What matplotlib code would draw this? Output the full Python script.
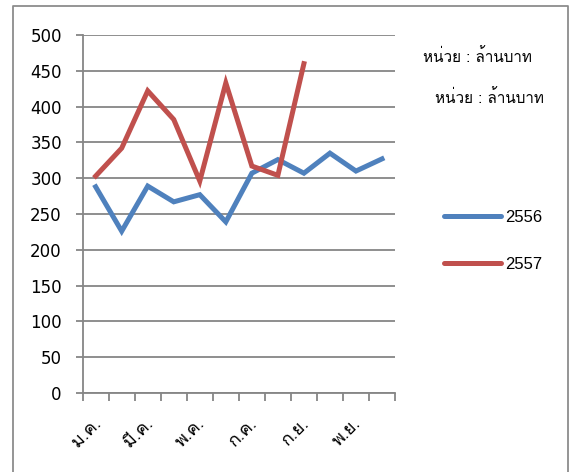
import matplotlib
matplotlib.use("Agg")
import matplotlib.pyplot as plt
import matplotlib.transforms as mtransforms
from matplotlib import font_manager, ft2font
from matplotlib.lines import Line2D

months = ["ม.ค.", "ก.พ.", "มี.ค.", "เม.ย.", "พ.ค.", "มิ.ย.",
          "ก.ค.", "ส.ค.", "ก.ย.", "ต.ค.", "พ.ย.", "ธ.ค."]
y2556 = [288, 226, 289, 267, 277, 239, 307, 326, 307, 335, 310, 327]
y2557 = [303, 342, 422, 382, 296, 433, 317, 304, 460]
unit_text = "หน่วย : ล้านบาท"


def find_thai_font():
    names = []
    for f in font_manager.fontManager.ttflist:
        try:
            cmap = ft2font.FT2Font(f.fname).get_charmap()
        except Exception:
            continue
        if 0x0E2B in cmap and 0x0E49 in cmap:
            names.append(f.name)
    return names[0] if names else "DejaVu Sans"


thai = find_thai_font()
plt.rcParams["font.family"] = [thai, "DejaVu Sans"]

blue = "#4F81BD"
red = "#C0504D"
gray = "#868686"

fig = plt.figure(figsize=(5.7, 4.72), dpi=100)
ax = fig.add_axes([0.145, 0.1674, 0.548, 0.7584])

x1 = list(range(len(y2556)))
x2 = list(range(len(y2557)))
ax.plot(x1, y2556, color=blue, lw=3.6, solid_joinstyle="miter", zorder=3)
ax.plot(x2, y2557, color=red, lw=3.6, solid_joinstyle="miter", zorder=3)

ax.set_xlim(-0.5, 11.5)
ax.set_ylim(0, 500)
ax.set_yticks(range(0, 501, 50))
ax.yaxis.grid(True, color=gray, lw=1.3)
ax.set_axisbelow(True)
ax.tick_params(axis="y", length=5, width=1.3, color=gray, labelsize=12, pad=10)
for t in ax.get_yticklabels():
    t.set_family("DejaVu Sans")

ax.set_xticks([i + 0.5 for i in range(-1, 12)], minor=True)
ax.set_xticks(x1[::2])
ax.set_xticklabels(months[::2], rotation=45, ha="right",
                   rotation_mode="anchor", fontsize=13)
ax.tick_params(axis="x", which="major", length=0, pad=15)
ax.tick_params(axis="x", which="minor", length=6, width=1.3, color=gray)
shift = mtransforms.ScaledTranslation(-4 / 100, 0, fig.dpi_scale_trans)
for t in ax.get_xticklabels():
    t.set_transform(t.get_transform() + shift)

for s in ["top", "right"]:
    ax.spines[s].set_visible(False)
for s in ["left", "bottom"]:
    ax.spines[s].set_color(gray)
    ax.spines[s].set_linewidth(1.3)

handles = [Line2D([], [], color=blue, lw=3.6, solid_capstyle="round"),
           Line2D([], [], color=red, lw=3.6, solid_capstyle="round")]
leg = fig.legend(handles, ["2556", "2557"], loc="center left",
                 bbox_to_anchor=(444 / 570, 0.4897), frameon=False,
                 borderaxespad=0, borderpad=0, handlelength=3.4,
                 handletextpad=0.25, labelspacing=1.9,
                 prop={"family": "Liberation Sans", "size": 12})

fig.text(423 / 570, 1 - 57 / 472, unit_text, fontsize=11, va="center")
fig.text(435 / 570, 1 - 98 / 472, unit_text, fontsize=11, va="center")

# outer frame (left, top, right)
fx0, fx1, fy = 13 / 570, 568 / 570, 1 - 6 / 472
fig.add_artist(Line2D([fx0, fx0, fx1, fx1], [0, fy, fy, 0],
                      transform=fig.transFigure, color="#8C8C8C", lw=1.3))

fig.savefig("out.png", dpi=100)
